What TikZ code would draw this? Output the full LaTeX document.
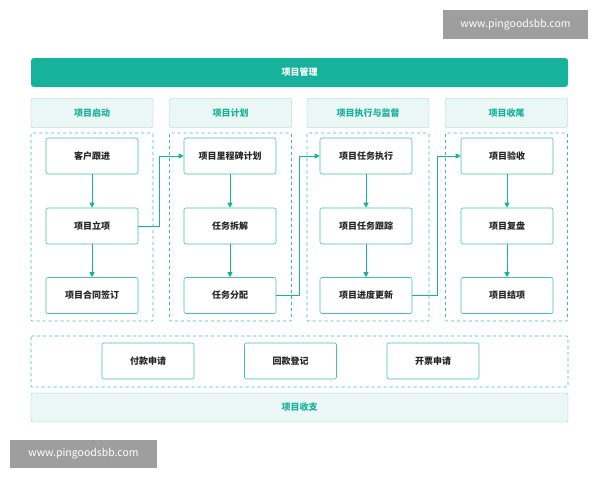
\documentclass[tikz,border=0pt]{standalone}
\usepackage{fontspec}
\setmainfont{Noto Sans CJK SC}
\usetikzlibrary{arrows.meta}
\definecolor{teal1}{HTML}{16B29B}
\definecolor{lt}{HTML}{EAF7F4}
\definecolor{bd}{HTML}{8FD3C8}
\tikzset{
 hdr/.style={draw=bd,fill=lt,rounded corners=2pt,text=teal1,font=\fontsize{9}{11}\selectfont\bfseries},
 grp/.style={draw=teal1!85,dashed,line width=0.6pt,rounded corners=1pt},
 box/.style={draw=teal1!80,fill=white,line width=0.6pt,rounded corners=2pt,minimum width=92pt,minimum height=36pt,font=\fontsize{9}{11}\selectfont\bfseries,text=black!85},
 arr/.style={draw=teal1,line width=0.7pt,-{Triangle[length=5pt,width=5pt]}},
 wm/.style={fill=black!38,text=white,font=\fontsize{10.5}{12}\selectfont,inner sep=0pt}
}
\begin{document}
\begin{tikzpicture}[x=1pt,y=-1pt]
\useasboundingbox (0,0) rectangle (600,480);
\node[wm,minimum width=145pt,minimum height=29pt] (w1) at (515.5,24.5) {www.pingoodsbb.com};
\node[fill=teal1,rounded corners=3pt,minimum width=537pt,minimum height=29pt,text=white,font=\fontsize{9}{11}\selectfont\bfseries] (top) at (299.5,72.5) {项目管理};
% headers
\foreach \n/\x/\t in {h1/92/项目启动,h2/230.5/项目计划,h3/368/项目执行与监督,h4/506.5/项目收尾}{
 \node[hdr,minimum width=122pt,minimum height=29pt] (\n) at (\x,113) {\t};
 \draw[grp] (\x-61,133) rectangle (\x+61,321);
}
\node[box] (a1) at (92,156) {客户跟进};
\node[box] (a2) at (92,226) {项目立项};
\node[box] (a3) at (92,295.5) {项目合同签订};
\node[box] (b1) at (230,156) {项目里程碑计划};
\node[box] (b2) at (230,226) {任务拆解};
\node[box] (b3) at (230,295.5) {任务分配};
\node[box] (c1) at (366,156) {项目任务执行};
\node[box] (c2) at (366,226) {项目任务跟踪};
\node[box] (c3) at (366,295.5) {项目进度更新};
\node[box] (d1) at (507,156) {项目验收};
\node[box] (d2) at (507,226) {项目复盘};
\node[box] (d3) at (507,295.5) {项目结项};
\foreach \p in {a,b,c,d}{
 \draw[arr] (\p1) -- (\p2);
 \draw[arr] (\p2) -- (\p3);
}
\draw[arr] (a2.east) -| (159,226) |- (b1.west);
\draw[arr] (b3.east) -- (299,295.5) |- (c1.west);
\draw[arr] (c3.east) -- (437,295.5) |- (d1.west);
% bottom
\draw[grp] (31,336) rectangle (568,387);
\node[box] (p1) at (148,361) {付款申请};
\node[box] (p2) at (290.5,361) {回款登记};
\node[box] (p3) at (433,361) {开票申请};
\node[hdr,minimum width=537pt,minimum height=29pt] (bot) at (299.5,407.5) {项目收支};
\node[wm,minimum width=147pt,minimum height=28pt] (w2) at (83.5,454) {www.pingoodsbb.com};
\end{tikzpicture}
\end{document}
